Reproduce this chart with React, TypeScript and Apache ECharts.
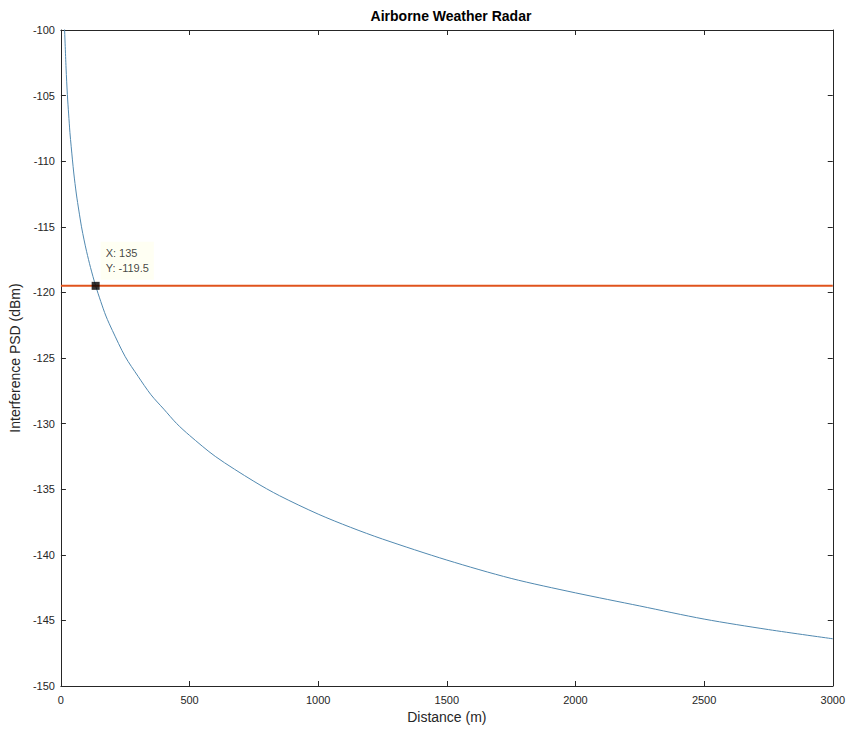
import React, { useEffect, useRef } from "react";
import * as echarts from "echarts";

// Distance (m) and interference PSD (dBm)
const distances = [14, 20, 25, 30, 35, 40, 50, 60, 70, 80, 90, 100, 115, 135, 155, 175, 200, 250, 300, 350, 400, 450, 500, 600, 750, 850, 1000, 1125, 1250, 1500, 1750, 2000, 2250, 2500, 2750, 3000];
const psdValues = [-99.8, -102.9, -104.9, -106.4, -107.8, -108.9, -110.9, -112.5, -113.8, -115.0, -116.0, -116.9, -118.1, -119.5, -120.7, -121.8, -122.9, -124.9, -126.4, -127.8, -128.9, -130.0, -130.9, -132.5, -134.4, -135.5, -136.9, -137.9, -138.8, -140.4, -141.8, -142.9, -143.9, -144.9, -145.7, -146.4];

// Threshold line
const thresholdX = [0, 3000];
const thresholdY = [-119.5, -119.5];

// Data tip
const tipX = 135;
const tipY = -119.5;

const xTicks = { min: 0, max: 3000, interval: 500 };
const yTicks = { min: -150, max: -100, interval: 5 };

const FONT = "Liberation Sans, Arial, Helvetica, sans-serif";
const AXIS_COLOR = "#262626";

export default function App() {
  const ref = useRef<HTMLDivElement>(null);
  useEffect(() => {
    if (!ref.current) return;
    const chart = echarts.init(ref.current, null, { renderer: "svg" });
    const axisCommon = {
      axisLine: { show: true, onZero: false, lineStyle: { color: AXIS_COLOR, width: 1 } },
      axisTick: { show: true, inside: true, length: 5, lineStyle: { color: AXIS_COLOR } },
      splitLine: { show: false },
    };
    const plain = (v: number) => String(v);
    chart.setOption({
      animation: false,
      backgroundColor: "#ffffff",
      title: {
        text: "Airborne Weather Radar",
        left: 446,
        textAlign: "center",
        top: 4,
        textStyle: { fontFamily: FONT, fontSize: 14, fontWeight: "bold", color: "#000" },
      },
      grid: { left: 58, right: 15, top: 30, bottom: 39, containLabel: false },
      xAxis: [
        {
          type: "value",
          position: "bottom",
          min: xTicks.min,
          max: xTicks.max,
          interval: xTicks.interval,
          name: "Distance (m)",
          nameLocation: "middle",
          nameGap: 24,
          nameTextStyle: { fontFamily: FONT, fontSize: 14, color: AXIS_COLOR },
          axisLabel: { fontFamily: FONT, fontSize: 11, color: AXIS_COLOR, margin: 8, formatter: plain },
          ...axisCommon,
        },
        {
          type: "value",
          position: "top",
          min: xTicks.min,
          max: xTicks.max,
          interval: xTicks.interval,
          axisLabel: { show: false },
          ...axisCommon,
        },
      ],
      yAxis: [
        {
          type: "value",
          position: "left",
          min: yTicks.min,
          max: yTicks.max,
          interval: yTicks.interval,
          name: "Interference PSD (dBm)",
          nameLocation: "middle",
          nameGap: 33,
          nameTextStyle: { fontFamily: FONT, fontSize: 14, color: AXIS_COLOR },
          axisLabel: { fontFamily: FONT, fontSize: 11, color: AXIS_COLOR, margin: 6, formatter: plain },
          ...axisCommon,
        },
        {
          type: "value",
          position: "right",
          min: yTicks.min,
          max: yTicks.max,
          interval: yTicks.interval,
          axisLabel: { show: false },
          ...axisCommon,
        },
      ],
      series: [
        {
          type: "line",
          data: distances.map((d, i) => [d, psdValues[i]]),
          smooth: 0.3,
          showSymbol: false,
          clip: true,
          lineStyle: { color: "#5189b0", width: 1 },
          z: 2,
        },
        {
          type: "line",
          data: thresholdX.map((d, i) => [d, thresholdY[i]]),
          showSymbol: false,
          lineStyle: { color: "#e0531c", width: 2 },
          z: 3,
        },
        {
          type: "scatter",
          data: [[tipX, tipY]],
          symbol: "rect",
          symbolSize: 8,
          itemStyle: { color: "#000" },
          z: 5,
          label: {
            show: true,
            position: [9, -40],
            formatter: `X: ${tipX}\nY: ${tipY}`,
            fontFamily: FONT,
            fontSize: 11,
            lineHeight: 15,
            color: "#111",
            backgroundColor: "rgba(255,255,238,0.9)",
            padding: [4, 5, 4, 5],
            align: "left",
          },
        },
      ],
    });
    return () => chart.dispose();
  }, []);
  return <div ref={ref} style={{ width: 848, height: 729, position: "absolute", left: 0, top: 0 }} />;
}
